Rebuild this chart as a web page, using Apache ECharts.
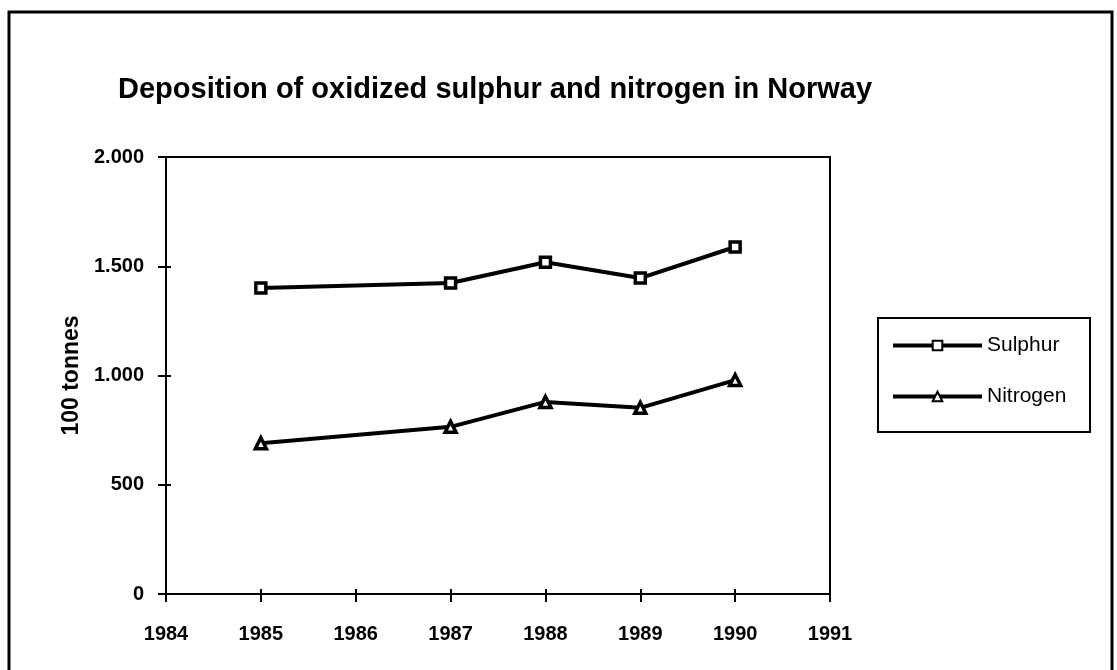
<!DOCTYPE html>
<html>
<head>
<meta charset="utf-8">
<script src="https://cdn.jsdelivr.net/npm/echarts@6/dist/echarts.min.js"></script>
<style>html,body{margin:0;padding:0;background:#fff;}#c{width:1117px;height:670px;}</style>
</head>
<body>
<div id="c"></div>
<script>
const years = [1985, 1987, 1988, 1989, 1990];
const sulphur = [1400, 1423, 1518, 1446, 1588];
const nitrogen = [690, 765, 879, 852, 979];
const seriesNames = ['Sulphur', 'Nitrogen'];
const titleText = 'Deposition of oxidized sulphur and nitrogen in Norway';
const yAxisTitle = '100 tonnes';

const FONT = '"Liberation Sans", Arial, sans-serif';
const chart = echarts.init(document.getElementById('c'));
function fmtY(v){ return v >= 1000 ? Math.floor(v/1000) + '.' + String(v%1000).padStart(3,'0') : String(v); }
const tickInX = {show:true, inside:true, length:5, lineStyle:{color:'#000', width:2}};
const tickOutX = {show:true, inside:false, length:8, lineStyle:{color:'#000', width:2}};
chart.setOption({
  animation:false,
  backgroundColor:'#fff',
  title:{text:titleText, left:113, top:70, textStyle:{fontFamily:FONT, fontSize:29, fontWeight:'bold', color:'#000'}},
  grid:{left:166, right:287, top:157, bottom:76, show:true, borderColor:'#000', borderWidth:2, backgroundColor:'transparent'},
  legend:{
    left:886, top:330, orient:'vertical', itemGap:30, itemWidth:89, itemHeight:12,
    data:seriesNames,
    lineStyle:{color:'#000', width:4},
    textStyle:{fontFamily:FONT, fontSize:21, color:'#000', padding:[0,0,0,0]}
  },
  graphic:[
    {type:'rect', shape:{x:878, y:318, width:212, height:114}, style:{fill:'none', stroke:'#000', lineWidth:2}},
    {type:'polyline', shape:{points:[[9,670],[9,12],[1112,12],[1112,670]]}, style:{fill:'none', stroke:'#000', lineWidth:3}}
  ],
  xAxis:[
    {type:'value', min:1984, max:1991, interval:1,
     axisLine:{show:true, lineStyle:{color:'#000', width:2}}, axisTick:tickOutX,
     axisLabel:{fontFamily:FONT, fontSize:20, fontWeight:'bold', color:'#000', margin:30, formatter:function(v){return String(v);}},
     splitLine:{show:false}},
    {type:'value', min:1984, max:1991, interval:1, position:'bottom',
     axisLine:{show:false}, axisTick:tickInX, axisLabel:{show:false}, splitLine:{show:false}}
  ],
  yAxis:[
    {type:'value', min:0, max:2000, interval:500,
     axisLine:{show:true, lineStyle:{color:'#000', width:2}}, axisTick:{show:true, inside:false, length:8, lineStyle:{color:'#000', width:2}},
     axisLabel:{fontFamily:FONT, fontSize:20, fontWeight:'bold', color:'#000', margin:22, formatter:fmtY},
     splitLine:{show:false},
     name:yAxisTitle, nameLocation:'middle', nameGap:76, nameRotate:90,
     nameTextStyle:{fontFamily:FONT, fontSize:23, fontWeight:'bold', color:'#000'}},
    {type:'value', min:0, max:2000, interval:500, position:'left',
     axisLine:{show:false}, axisTick:{show:true, inside:true, length:5, lineStyle:{color:'#000', width:2}}, axisLabel:{show:false}, splitLine:{show:false}}
  ],
  series:[
    {name:seriesNames[0], type:'line', data:years.map((y,i)=>[y, sulphur[i]]),
     symbol:'rect', symbolSize:10, lineStyle:{color:'#000', width:4},
     itemStyle:{color:'#fff', borderColor:'#000', borderWidth:3.5}},
    {name:seriesNames[1], type:'line', data:years.map((y,i)=>[y, nitrogen[i]]),
     symbol:'triangle', symbolSize:11, lineStyle:{color:'#000', width:4},
     itemStyle:{color:'#fff', borderColor:'#000', borderWidth:3.5}}
  ]
});
</script>
</body>
</html>
